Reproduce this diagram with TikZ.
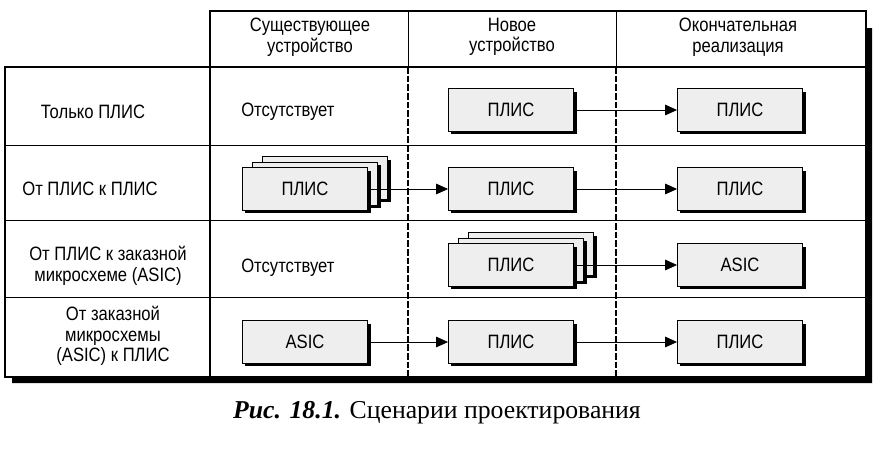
\documentclass[tikz,border=0pt]{standalone}
\usepackage{fontspec}
\setmainfont{Liberation Sans}[FakeStretch=0.86]
\newfontfamily\capfont{Liberation Serif}
\usetikzlibrary{shadows,arrows.meta}

\begin{document}
\begin{tikzpicture}[x=0.75pt,y=-0.75pt,
    dev/.style={draw,fill=gray!13,minimum width=94pt,minimum height=32pt,inner sep=0pt,
      font=\fontsize{14.5}{16}\selectfont,
      drop shadow={shadow xshift=2.2pt,shadow yshift=-2.2pt,fill=black,opacity=1}},
    txt/.style={font=\fontsize{14.5}{15.5}\selectfont,align=center,inner sep=0pt},
    flow/.style={-{Triangle[length=9pt,width=8pt]},line width=0.6pt},
    frame/.style={line width=1.5pt},
    sep/.style={line width=1.2pt,dash pattern=on 5pt off 1.5pt}]
  \useasboundingbox (0,0) rectangle (890,450);
  % table frame with its shadow
  \fill[black] (866,28) -- (872,28) -- (872,383) -- (12,383) -- (12,377) -- (866,377) -- cycle;
  \draw[frame] (5,67) rectangle (866,377);
  \draw[frame] (210,67) -- (210,11) -- (866,11) -- (866,67);
  \foreach \y in {145,220,297}
    \draw[line width=0.75pt] (5,\y) -- (866,\y);
  \draw[line width=1.2pt] (210,11) -- (210,377);
  \foreach \x in {408,616} {
    \draw[line width=0.75pt] (\x,11) -- (\x,67);
    \draw[sep] (\x,67) -- (\x,377);
  }
  % headers
  \node[txt] (hOld) at (310,37) {Существующее\\устройство};
  \node[txt] (hNew) at (512,37) {Новое\\устройство};
  \node[txt] (hFin) at (738,37) {Окончательная\\реализация};
  % scenarios
  \node[txt] (s1) at (93,112) {Только ПЛИС};
  \node[txt] (s2) at (90,189) {От ПЛИС к ПЛИС};
  \node[txt] (s3) at (108,266) {От ПЛИС к заказной\\микросхеме (ASIC)};
  \node[txt] (s4) at (113,336) {От заказной\\микросхемы\\(ASIC) к ПЛИС};
  \node[txt,anchor=west] (none1) at (241,112) {Отсутствует};
  \node[txt,anchor=west] (none3) at (241,268) {Отсутствует};
  % row 1
  \node[dev] (new1) at (511,110) {ПЛИС};
  \node[dev] (fin1) at (740,110) {ПЛИС};
  % row 2
  \node[dev] (old2c) at (325,178) {};
  \node[dev] (old2b) at (315,183.5) {};
  \node[dev] (old2) at (305,189) {ПЛИС};
  \node[dev] (new2) at (511,189) {ПЛИС};
  \node[dev] (fin2) at (740,189) {ПЛИС};
  % row 3
  \node[dev] (new3c) at (531,254) {};
  \node[dev] (new3b) at (521,259.5) {};
  \node[dev] (new3) at (511,265) {ПЛИС};
  \node[dev] (fin3) at (740,265) {ASIC};
  % row 4
  \node[dev] (old4) at (305,342) {ASIC};
  \node[dev] (new4) at (511,342) {ПЛИС};
  \node[dev] (fin4) at (740,342) {ПЛИС};
  \draw[flow] (new1) -- (fin1);
  \draw[flow] (old2) -- (new2);
  \draw[flow] (new2) -- (fin2);
  \draw[flow] (new3) -- (fin3);
  \draw[flow] (old4) -- (new4);
  \draw[flow] (new4) -- (fin4);
  \node[font=\capfont\fontsize{19.3}{22}\selectfont,inner sep=0pt] (cap) at (437,413)
    {\textbf{\textit{Рис. 18.1.}} Сценарии проектирования};
\end{tikzpicture}
\end{document}
